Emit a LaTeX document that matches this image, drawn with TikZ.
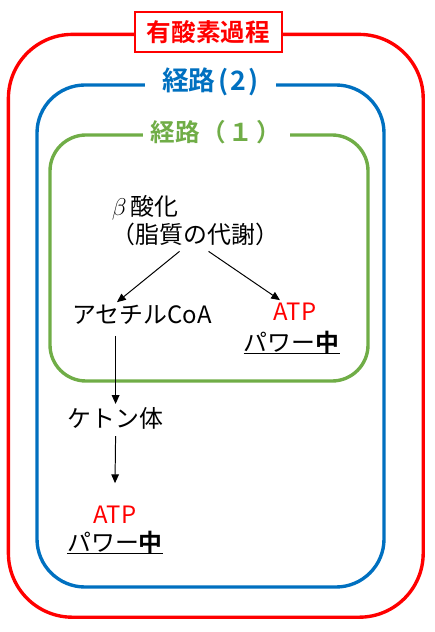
\documentclass[tikz,border=0pt]{standalone}
\usepackage{fontspec}
\setmainfont{Noto Sans CJK JP}[BoldFont={Noto Sans CJK JP Bold}]
\usepackage{tikz}
\usetikzlibrary{arrows.meta, positioning}
\definecolor{AeroRed}{HTML}{FF0000}
\definecolor{RouteBlue}{HTML}{0070C0}
\definecolor{RouteGreen}{HTML}{70AD47}

\begin{document}
\begin{tikzpicture}[
  frame/.style={line width=2.4pt, rounded corners=#1},
  title/.style={fill=white, inner ysep=1pt, font=\fontsize{17.5}{20}\selectfont\bfseries},
  word/.style={inner sep=2pt, font=\fontsize{17}{20}\selectfont},
  power/.style={inner xsep=0pt, inner ysep=0pt, font=\fontsize{17}{20}\selectfont},
  flow/.style={-{Triangle[length=2.2mm, width=1.9mm]}, line width=0.7pt}
]
\useasboundingbox (0,0) rectangle (10.85,-15.8);

% 有酸素過程
\draw[frame=1.6cm, AeroRed] (0.21,-0.86) rectangle (10.58,-15.43);
\node[title, text=AeroRed, draw=AeroRed, line width=1pt, minimum width=3.675cm, minimum height=1cm] (aero) at (5.21,-0.8) {有酸素過程};

% 経路(2)
\draw[frame=1.2cm, RouteBlue] (0.925,-2.125) rectangle (9.6,-14.675);
\node[title, text=RouteBlue, minimum width=3.275cm, font=\fontsize{19}{22}\selectfont\bfseries] (route2) at (5.26,-2.05) {経路\kern2pt(\kern1.5pt2\kern1.5pt)};

% 経路(1)
\draw[frame=0.9cm, RouteGreen] (1.25,-3.375) rectangle (9.2,-9.525);
\node[title, text=RouteGreen, minimum width=3.675cm] (route1) at (5.4,-3.3) {経路\kern1pt（\kern2pt１\kern2pt）};

% flow
\node[word, align=left, anchor=west] (beta) at (2.72,-5.525) {$\beta$\,酸化\\（脂質の代謝）};
\node[word] (acetyl) at (3.55,-7.875) {アセチルCoA};
\node[word, text=AeroRed] (atp1) at (7.375,-7.8) {ATP};
\node[power] (pw1) at (7.29,-8.55) {パワー\textbf{中}};
\draw[line width=1pt] (pw1.south west) -- (pw1.south east);

\node[word] (ketone) at (2.89,-10.45) {ケトン体};
\node[word, text=AeroRed] (atp2) at (2.875,-12.875) {ATP};
\node[power] (pw2) at (2.875,-13.55) {パワー\textbf{中}};
\draw[line width=1pt] (pw2.south west) -- (pw2.south east);

\draw[flow] ([shift={(-0.4,-0.05)}]beta.south) -- ([xshift=-0.625cm]acetyl.north);
\draw[flow] ([shift={(0.325,-0.05)}]beta.south) -- ([xshift=-0.375cm]atp1.north);
\draw[flow] ([yshift=-0.2cm]ketone.north |- acetyl.south) -- (ketone.north);
\draw[flow] ([yshift=-0.1cm]ketone.south) -- ([yshift=0.5cm]atp2.north);

\end{tikzpicture}
\end{document}
